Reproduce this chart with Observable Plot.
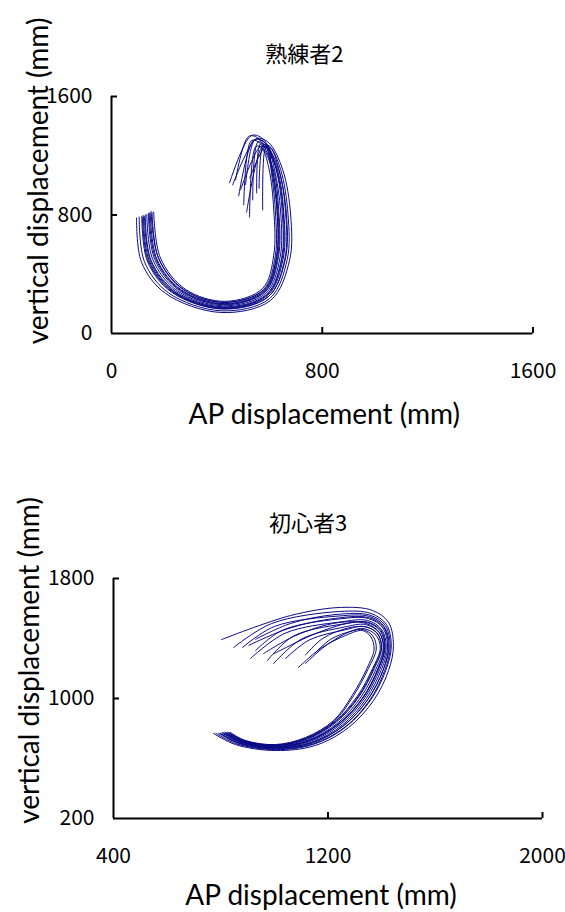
<!DOCTYPE html>
<html><head><meta charset="utf-8">
<script src="https://cdn.jsdelivr.net/npm/d3@7"></script>
<script src="https://cdn.jsdelivr.net/npm/@observablehq/plot@0.6"></script>
<style>
body{margin:0;background:#fff;}
#wrap{position:relative;width:565px;height:912px;overflow:hidden;}
#c1,#c2{position:absolute;left:0;}
#c1{top:0}
#c2{top:456px}
</style></head><body><div id="wrap"><div id="c1"></div><div id="c2"></div></div>
<script>
const title1 = "熟練者2";
const title2 = "初心者3";
const xLabel = "AP displacement (mm)";
const yLabel = "vertical displacement (mm)";
const xTicks1 = [0, 800, 1600];
const yTicks1 = [0, 800, 1600];
const xTicks2 = [400, 1200, 2000];
const yTicks2 = [200, 1000, 1800];

// 熟練者2 trajectories: [AP, vertical] in mm
const expert2 = [
  [[160,820],[186,509],[281,298],[433,217],[574,305],[616,529],[616,834],[597,1119],[570,1254],[548,1262],[524,786]],
  [[154,816],[179,506],[273,295],[431,210],[577,297],[622,526],[622,831],[606,1110],[598,1235],[585,1250],[574,834]],
  [[147,812],[172,503],[266,293],[429,202],[580,289],[628,522],[629,827],[608,1116],[560,1290],[530,1300],[502,868]],
  [[140,808],[164,501],[258,290],[427,194],[583,281],[634,519],[635,824],[613,1115],[555,1320],[520,1330],[471,1037]],
  [[134,804],[157,498],[251,287],[425,187],[586,273],[640,515],[642,820],[618,1113],[590,1255],[565,1262],[490,970]],
  [[128,800],[150,495],[243,285],[424,180],[589,265],[646,512],[648,817],[624,1112],[584,1271],[556,1292],[536,902]],
  [[121,796],[143,492],[235,282],[422,172],[592,256],[652,509],[654,814],[629,1111],[575,1300],[540,1305],[483,929]],
  [[115,792],[136,489],[228,279],[420,165],[595,248],[658,505],[661,810],[634,1109],[570,1320],[530,1335],[448,1017]],
  [[105,786],[125,485],[216,275],[417,153],[600,236],[667,500],[670,805],[642,1107],[600,1265],[575,1270],[513,820]],
  [[95,780],[114,481],[205,271],[414,142],[604,224],[676,495],[680,800],[650,1105],[597,1288],[551,1315],[460,1003]],
  [[150,825],[178,512],[272,300],[428,210],[580,296],[626,522],[628,830],[606,1120],[585,1265],[565,1280],[551,949]],
  [[125,790],[148,490],[240,280],[423,175],[590,260],[648,508],[652,815],[626,1110],[580,1290],[545,1310],[509,1005]],
  [[143,815],[168,505],[262,292],[430,198],[582,285],[631,520],[632,826],[610,1118],[590,1250],[575,1262],[560,980]],
  [[118,785],[140,488],[232,280],[418,168],[596,250],[660,503],[664,808],[636,1106],[605,1250],[585,1262],[525,1050]]
];

// 初心者3 trajectories: [AP, vertical] in mm
const novice3 = [
  [[836,773],[892,720],[1004,693],[1116,740],[1221,853],[1290,1020],[1345,1200],[1372,1330],[1360,1410],[1329,1453],[1265,1420],[1172,1333],[1090,1207]],
  [[830,772],[888,717],[1004,689],[1120,735],[1227,848],[1310,1017],[1366,1199],[1395,1335],[1379,1422],[1333,1466],[1280,1445],[1190,1350],[1116,1233]],
  [[823,772],[885,715],[1004,685],[1123,729],[1232,844],[1316,1013],[1372,1197],[1400,1337],[1384,1432],[1336,1480],[1262,1457],[1130,1390],[1042,1267]],
  [[817,771],[881,712],[1004,681],[1127,724],[1238,839],[1323,1010],[1379,1196],[1406,1339],[1390,1441],[1340,1493],[1260,1476],[1100,1395],[997,1233]],
  [[811,771],[877,709],[1004,677],[1131,719],[1243,835],[1330,1007],[1386,1195],[1411,1341],[1395,1451],[1344,1507],[1250,1495],[1070,1415],[974,1253]],
  [[805,770],[874,707],[1004,673],[1135,714],[1249,830],[1337,1004],[1393,1194],[1417,1343],[1400,1460],[1348,1520],[1245,1510],[1040,1435],[911,1267]],
  [[798,769],[870,704],[1004,669],[1138,708],[1255,825],[1343,1000],[1399,1192],[1422,1345],[1405,1470],[1351,1533],[1240,1530],[1030,1455],[930,1320]],
  [[792,768],[866,701],[1004,665],[1142,703],[1260,821],[1350,997],[1406,1191],[1428,1347],[1410,1479],[1355,1547],[1240,1550],[1000,1480],[881,1340]],
  [[782,768],[860,697],[1004,659],[1147,695],[1269,814],[1360,992],[1416,1189],[1436,1350],[1418,1493],[1360,1567],[1244,1580],[990,1500],[848,1340]],
  [[773,767],[855,693],[1004,653],[1153,687],[1277,807],[1370,987],[1426,1187],[1444,1353],[1426,1507],[1366,1587],[1247,1607],[1060,1553],[803,1393]],
  [[815,775],[880,712],[1010,680],[1135,722],[1247,838],[1333,1010],[1389,1199],[1413,1345],[1397,1455],[1346,1510],[1270,1500],[1150,1430],[1000,1300]],
  [[826,776],[887,718],[1008,688],[1124,733],[1230,848],[1314,1016],[1370,1201],[1399,1339],[1383,1437],[1338,1478],[1275,1470],[1180,1400],[1116,1290]],
  [[820,770],[884,712],[1000,676],[1125,718],[1240,832],[1328,1000],[1383,1185],[1408,1330],[1392,1440],[1342,1500],[1235,1505],[1080,1420],[960,1300]],
  [[808,773],[875,708],[1006,670],[1140,706],[1258,818],[1348,992],[1404,1183],[1425,1340],[1408,1475],[1350,1540],[1210,1530],[1050,1465],[905,1355]],
  [[800,766],[868,702],[1002,663],[1145,698],[1265,812],[1356,990],[1411,1185],[1432,1343],[1414,1486],[1356,1556],[1230,1560],[1060,1500],[930,1395]],
  [[834,770],[890,718],[1006,690],[1119,737],[1224,850],[1295,1018],[1350,1198],[1380,1330],[1368,1415],[1331,1460],[1290,1450],[1210,1395],[1150,1300]]
];

const W = 565, H = 456;
const lineColor = "#0a0a86";
const tickFont = "'Noto Sans CJK JP', 'Liberation Sans', sans-serif";
const labelFont = "Lato, 'Liberation Sans', sans-serif";

function render(el, curves, xT, yT, title, m, o) {
  const rows = curves.flatMap((c, i) => c.map(([x, y]) => ({trial: i, x, y})));
  const fw = W - m.left - m.right, fh = H - m.top - m.bottom;
  const svg = Plot.plot({
    width: W, height: H,
    marginLeft: m.left, marginRight: m.right, marginTop: m.top, marginBottom: m.bottom,
    x: {domain: [xT[0], xT[xT.length - 1]]},
    y: {domain: [yT[0], yT[yT.length - 1]]},
    style: {fontFamily: tickFont, background: "white", overflow: "visible", color: "black"},
    marks: [
      Plot.line(rows, {x: "x", y: "y", z: "trial", curve: "catmull-rom", stroke: lineColor, strokeWidth: 1}),
      Plot.ruleX([xT[0]], {stroke: "black", strokeWidth: 2}),
      Plot.ruleY([yT[0]], {stroke: "black", strokeWidth: 2}),
      Plot.tickX(xT.slice(1), {x: d => d, insetTop: fh - 6, stroke: "black", strokeWidth: 2}),
      Plot.tickY(yT.slice(1), {y: d => d, insetRight: fw - 6, stroke: "black", strokeWidth: 2}),
      Plot.axisX(xT, {tickSize: 0, tickPadding: o.xPad, fontSize: 21, label: null, tickFormat: d => String(d)}),
      Plot.axisY(yT, {tickSize: 0, tickPadding: o.yPad, fontSize: 21, label: null, tickFormat: d => String(d)}),
      Plot.text([title], {frameAnchor: "top", lineAnchor: "middle", textAnchor: "middle", dx: o.tDx, dy: o.tDy, fontSize: 22, fill: "black"}),
      Plot.text([xLabel], {frameAnchor: "bottom", lineAnchor: "middle", textAnchor: "middle", dx: o.xlDx, dy: o.xlDy, fontSize: 28, fontFamily: labelFont, fill: "black"}),
      Plot.text([yLabel], {frameAnchor: "left", lineAnchor: "middle", textAnchor: "middle", rotate: -90, dx: o.ylDx, dy: o.ylDy, fontSize: 28, fontFamily: labelFont, fill: "black"})
    ]
  });
  document.getElementById(el).appendChild(svg);
}

render("c1", expert2, xTicks1, yTicks1, title1,
  {left: 111, right: 32.5, top: 96, bottom: 123},
  {xPad: 30, yPad: 19, tDx: -18, tDy: -42, xlDx: 2, xlDy: 82, ylDx: -72, ylDy: -34});
render("c2", novice3, xTicks2, yTicks2, title2,
  {left: 113, right: 23, top: 122, bottom: 94},
  {xPad: 30, yPad: 19, tDx: -20, tDy: -55, xlDx: -7, xlDy: 78, ylDx: -83, ylDy: -38});
</script></body></html>
